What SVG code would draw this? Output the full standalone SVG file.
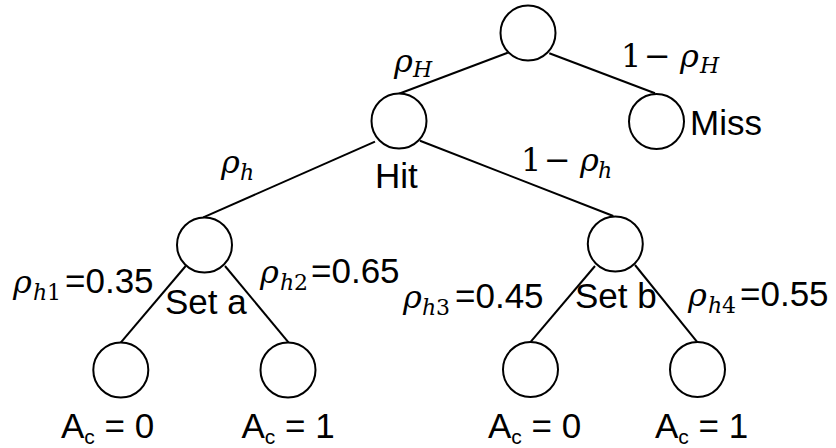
<svg xmlns="http://www.w3.org/2000/svg" width="836" height="448" viewBox="0 0 836 448">
<style>
.node{fill:#fff;stroke:#000;stroke-width:2}
.edge{stroke:#000;stroke-width:2;fill:none}
.t{font-family:"Liberation Sans",Arial,sans-serif;font-size:35px;fill:#000}
.sub{font-size:21px}
.m{font-family:"DejaVu Serif",serif;font-style:italic;font-size:32px;fill:#000}
.ms{font-size:22px}
.up{font-style:normal}
</style>
<g id="connectors">
<line class="edge" x1="507.7" y1="52.7" x2="399" y2="93.7"/>
<line class="edge" x1="549.3" y1="53.3" x2="655" y2="93.3"/>
<line class="edge" x1="375" y1="141.7" x2="203.3" y2="217.3"/>
<line class="edge" x1="420" y1="140.7" x2="613.3" y2="216"/>
<line class="edge" x1="185.7" y1="266" x2="120.7" y2="342.7"/>
<line class="edge" x1="225" y1="266" x2="289.3" y2="343.3"/>
<line class="edge" x1="595" y1="266" x2="530" y2="342.7"/>
<line class="edge" x1="635" y1="265" x2="697.7" y2="342.7"/>
</g>
<g id="edge-labels">
<text class="m" x="394" y="72">ρ<tspan class="ms" x="413" y="77">H</tspan></text>
<text class="m" x="621" y="67"><tspan class="up">1</tspan><tspan class="up" x="644">−</tspan><tspan x="680">ρ</tspan><tspan class="ms" x="700" y="73">H</tspan></text>
<text class="m" x="221" y="173">ρ<tspan class="ms" x="240" y="180">h</tspan></text>
<text class="m" x="521" y="171"><tspan class="up">1</tspan><tspan class="up" x="544">−</tspan><tspan x="580">ρ</tspan><tspan class="ms" x="598" y="178">h</tspan></text>
<text class="m" x="13" y="293">ρ<tspan class="ms" x="33" y="300">h</tspan><tspan class="ms up" x="47">1</tspan></text>
<text class="t" x="65" y="293">=0.35</text>
<text class="m" x="260" y="283">ρ<tspan class="ms" x="280" y="290">h</tspan><tspan class="ms up" x="294">2</tspan></text>
<text class="t" x="311" y="283">=0.65</text>
<text class="m" x="403" y="308">ρ<tspan class="ms" x="422" y="315">h</tspan><tspan class="ms up" x="436">3</tspan></text>
<text class="t" x="455" y="308">=0.45</text>
<text class="m" x="688" y="306">ρ<tspan class="ms" x="708" y="313">h</tspan><tspan class="ms up" x="722">4</tspan></text>
<text class="t" x="740" y="306">=0.55</text>
</g>
<g id="root"><circle class="node" cx="528" cy="33" r="27.5"/></g>
<g id="hit"><circle class="node" cx="399" cy="121" r="27.5"/><text class="t" x="375" y="188">Hit</text></g>
<g id="miss"><circle class="node" cx="656.5" cy="121.5" r="27.5"/><text class="t" x="690" y="135">Miss</text></g>
<g id="set-a"><circle class="node" cx="204.5" cy="245" r="27.5"/><text class="t" x="165" y="314">Set a</text></g>
<g id="set-b"><circle class="node" cx="615.3" cy="244" r="27.5"/><text class="t" x="575" y="308">Set b</text></g>
<g id="leaf-a0"><circle class="node" cx="120.8" cy="370" r="27.5"/><text class="t" x="61" y="438">A<tspan class="sub" dy="6">c</tspan><tspan dy="-6"> = 0</tspan></text></g>
<g id="leaf-a1"><circle class="node" cx="288" cy="370" r="27.5"/><text class="t" x="241.5" y="438">A<tspan class="sub" dy="6">c</tspan><tspan dy="-6"> = 1</tspan></text></g>
<g id="leaf-b0"><circle class="node" cx="530.5" cy="369.5" r="27.5"/><text class="t" x="488" y="438">A<tspan class="sub" dy="6">c</tspan><tspan dy="-6"> = 0</tspan></text></g>
<g id="leaf-b1"><circle class="node" cx="697.5" cy="369.5" r="27.5"/><text class="t" x="655" y="438">A<tspan class="sub" dy="6">c</tspan><tspan dy="-6"> = 1</tspan></text></g>
</svg>
